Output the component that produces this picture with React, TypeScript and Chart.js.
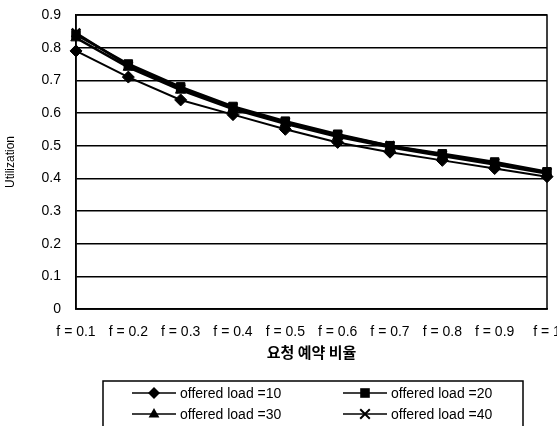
import React, { useEffect, useRef } from 'react';
import { Chart, registerables } from 'chart.js';

Chart.register(...registerables);

const categories = ['f = 0.1', 'f = 0.2', 'f = 0.3', 'f = 0.4', 'f = 0.5', 'f = 0.6', 'f = 0.7', 'f = 0.8', 'f = 0.9', 'f = 1'];
const load10 = [0.79, 0.71, 0.64, 0.595, 0.55, 0.51, 0.48, 0.455, 0.43, 0.405];
const load20 = [0.84, 0.75, 0.68, 0.62, 0.575, 0.535, 0.5, 0.475, 0.45, 0.42];
const load30 = [0.83, 0.74, 0.67, 0.612, 0.567, 0.527, 0.495, 0.468, 0.442, 0.415];
const load40 = [0.845, 0.745, 0.675, 0.617, 0.572, 0.532, 0.5, 0.472, 0.447, 0.418];
const seriesLabels = ['offered load =10', 'offered load =20', 'offered load =30', 'offered load =40'];
const markerStyles = ['rectRot', 'rect', 'triangle', 'crossRot'];
const yTitle = 'Utilization';
const xTitle = '요청 예약 비율';

const FONT = 'Liberation Sans, Arial, sans-serif';

function drawMarker(ctx: CanvasRenderingContext2D, style: string, x: number, y: number, r: number) {
  ctx.save();
  ctx.fillStyle = '#000';
  ctx.strokeStyle = '#000';
  ctx.lineWidth = 2;
  ctx.beginPath();
  if (style === 'rectRot') {
    ctx.moveTo(x, y - r);
    ctx.lineTo(x + r, y);
    ctx.lineTo(x, y + r);
    ctx.lineTo(x - r, y);
    ctx.closePath();
    ctx.fill();
  } else if (style === 'rect') {
    const s = r * 0.8;
    ctx.rect(x - s, y - s, 2 * s, 2 * s);
    ctx.fill();
  } else if (style === 'triangle') {
    ctx.moveTo(x, y - r);
    ctx.lineTo(x + r * 0.9, y + r * 0.6);
    ctx.lineTo(x - r * 0.9, y + r * 0.6);
    ctx.closePath();
    ctx.fill();
  } else {
    const s = r * 0.8;
    ctx.moveTo(x - s, y - s);
    ctx.lineTo(x + s, y + s);
    ctx.moveTo(x + s, y - s);
    ctx.lineTo(x - s, y + s);
    ctx.stroke();
  }
  ctx.restore();
}

const framePlugin = {
  id: 'framePlugin',
  afterDatasetsDraw(chart: any) {
    const { ctx, chartArea } = chart;
    ctx.save();
    ctx.strokeStyle = '#000';
    ctx.lineWidth = 1.5;
    ctx.strokeRect(chartArea.left, chartArea.top, chartArea.right - chartArea.left, chartArea.bottom - chartArea.top);
    ctx.restore();
  },
  afterDraw(chart: any) {
    const { ctx } = chart;
    ctx.save();
    ctx.strokeStyle = '#000';
    ctx.lineWidth = 1.5;
    ctx.strokeRect(103, 381, 420, 50);
    const cols = [132, 343];
    const rows = [393, 414];
    chart.data.datasets.forEach((ds: any, i: number) => {
      const x0 = cols[i % 2];
      const y0 = rows[Math.floor(i / 2)];
      ctx.strokeStyle = '#000';
      ctx.lineWidth = 1.5;
      ctx.beginPath();
      ctx.moveTo(x0, y0);
      ctx.lineTo(x0 + 44, y0);
      ctx.stroke();
      drawMarker(ctx, ds.pointStyle, x0 + 22, y0, 6);
      ctx.fillStyle = '#000';
      ctx.font = '14px ' + FONT;
      ctx.textBaseline = 'middle';
      ctx.textAlign = 'left';
      ctx.fillText(ds.label, x0 + 48, y0 + 1);
    });
    ctx.restore();
  },
};

export default function App() {
  const ref = useRef<HTMLCanvasElement | null>(null);
  useEffect(() => {
    if (!ref.current) return;
    const series = [load10, load20, load30, load40];
    const chart = new Chart(ref.current, {
      type: 'line',
      data: {
        labels: categories,
        datasets: series.map((d, i) => ({
          label: seriesLabels[i],
          data: d,
          borderColor: '#000',
          backgroundColor: '#000',
          borderWidth: i === 0 ? 2 : 2.5,
          pointStyle: markerStyles[i] as any,
          pointRadius: 6,
          pointBorderWidth: i === 3 ? 2.5 : 1,
          pointBackgroundColor: '#000',
          pointBorderColor: '#000',
          tension: 0,
          clip: false as any,
        })),
      },
      options: {
        animation: false,
        responsive: false,
        devicePixelRatio: 1,
        layout: { padding: { left: 0, top: 15, right: 10, bottom: 57 } },
        plugins: { legend: { display: false }, tooltip: { enabled: false } },
        scales: {
          x: {
            type: 'category',
            offset: false,
            grid: { display: false },
            border: { display: true, color: '#000', width: 1.5 },
            ticks: { color: '#000', font: { family: FONT, size: 14 }, padding: 7, maxRotation: 0, autoSkip: false },
            title: { display: true, text: xTitle, color: '#000', font: { family: 'Noto Sans CJK KR', size: 15, weight: 'bold' }, padding: { top: 0, bottom: 8 } },
            afterFit(s: any) {
              s.height = 60;
              s.paddingLeft = 0;
              s.paddingRight = 0;
            },
          },
          y: {
            min: 0,
            max: 0.9,
            ticks: { stepSize: 0.1, color: '#000', font: { family: FONT, size: 14 }, padding: 15, callback: (v: any) => (Math.round(Number(v) * 10) / 10).toString() },
            grid: { color: '#000', lineWidth: 1.5, drawTicks: false },
            border: { display: true, color: '#000', width: 1.5 },
            title: { display: true, text: yTitle, color: '#000', font: { family: FONT, size: 12 }, padding: { top: 3, bottom: 0 } },
            afterFit(s: any) {
              s.width = 76;
              s.paddingTop = 0;
              s.paddingBottom = 0;
            },
          },
        },
      },
      plugins: [framePlugin],
    });
    return () => chart.destroy();
  }, []);
  return (
    <div style={{ position: 'absolute', left: 0, top: 0, width: 557, height: 426, background: '#fff' }}>
      <canvas ref={ref} width={557} height={426} />
    </div>
  );
}
